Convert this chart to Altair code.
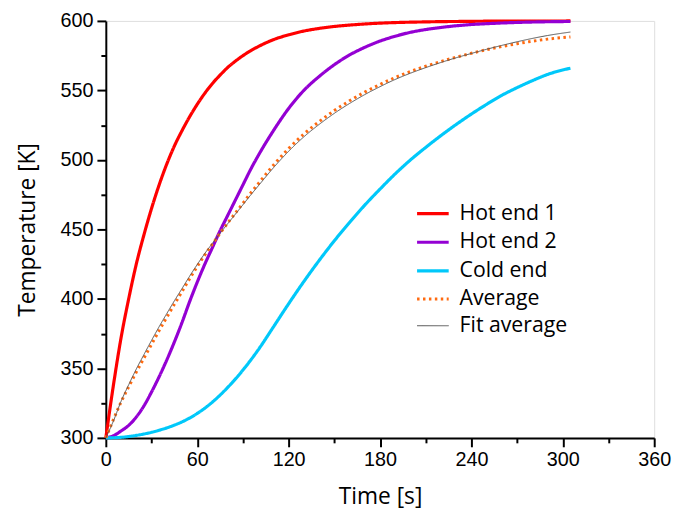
import altair as alt
import pandas as pd

# ---- data ----
time_s = [0, 5, 10, 15, 20, 25, 30, 35, 40, 45, 50, 55, 60, 65, 70, 75, 80, 85, 90, 95,
          100, 110, 120, 130, 140, 150, 160, 170, 180, 190, 200, 210, 220, 230, 240,
          250, 260, 270, 280, 290, 305]

hot_end_1 = [300, 338, 372, 400, 425, 446, 465, 482, 497, 510, 521, 531, 540, 548, 555,
             561, 566.5, 571, 575, 578.5, 581.5, 586.5, 590, 592.7, 594.6, 596, 597,
             597.8, 598.4, 598.8, 599.1, 599.3, 599.5, 599.6, 599.7, 599.8, 599.8,
             599.9, 599.9, 599.9, 600]

hot_end_2 = [300, 301.5, 305, 309, 315, 323, 333, 344, 356, 369, 383, 398, 412, 425, 437,
             449, 460, 471, 482, 493, 503, 521, 537, 550, 560, 568.5, 575.5, 581, 585.5,
             589, 591.8, 593.8, 595.3, 596.5, 597.4, 598, 598.5, 598.9, 599.2, 599.4,
             599.6]

cold_end = [300, 300.1, 300.4, 301, 301.8, 302.8, 304, 305.5, 307.2, 309.2, 311.5, 314.3,
            317.6, 321.4, 325.8, 330.8, 336.3, 342.3, 348.8, 355.8, 363.3, 379.8, 396.5, 412.5,
            427.6, 441.8, 455, 467.5, 479, 490, 500, 509, 517.5, 525.5, 533, 540, 546.5, 552,
            557, 561.5, 566]

average = [300, 313.2, 325.8, 336.7, 347.3, 357.3, 367.3, 377.2, 386.7, 396.1, 405.2,
           414.5, 423.3, 431.7, 439.5, 447.2, 454.5, 461.7, 468.8, 476, 482.8, 496.2,
           508.2, 518.6, 527.5, 535.5, 542.5, 548.8, 554.3, 559.3, 563.6, 567.4, 570.8,
           573.9, 576.7, 579.3, 581.6, 583.6, 585.4, 586.9, 588.5]

fit_average = [300, 312.2, 326.3, 338.2, 349.5, 359.9, 370.1, 380, 389.4, 398.6, 407.4,
               416.3, 424.7, 432.7, 440, 447.2, 454.1, 460.9, 467.7, 474.6, 481.2, 494.3,
               506.2, 516.6, 525.5, 533.5, 540.6, 547, 552.7, 557.9, 562.4, 566.4, 570.1,
               573.5, 576.6, 579.6, 582.4, 585, 587.4, 589.5, 592]

series_names = ["Hot end 1", "Hot end 2", "Cold end", "Average", "Fit average"]
x_ticks = [0, 30, 60, 90, 120, 150, 180, 210, 240, 270, 300, 330, 360]
y_ticks = [300, 325, 350, 375, 400, 425, 450, 475, 500, 525, 550, 575, 600]

# ---- styles ----
series_colors = ["#FF0000", "#9400D3", "#00C8FA", "#FF6A10", "#555555"]
series_dashes = [[1, 0], [1, 0], [1, 0], [2.5, 3.5], [1, 0]]
series_widths = [3.2, 3.2, 3.2, 3.0, 1.0]

rows = []
for name, vals in zip(series_names,
                      [hot_end_1, hot_end_2, cold_end, average, fit_average]):
    for t, v in zip(time_s, vals):
        rows.append({"t": t, "T": v, "series": name})
df = pd.DataFrame(rows)

legend = alt.Legend(
    title=None,
    orient="none",
    legendX=313,
    legendY=177,
    symbolType="stroke",
    symbolSize=1024,
    labelFont="Open Sans",
    labelFontSize=21.5,
    labelColor="black",
    labelOffset=9,
    rowPadding=0,
    padding=0,
)

axis_font = "Liberation Sans"
title_font = "Open Sans"

x_axis = alt.Axis(
    values=x_ticks,
    labelExpr="datum.value % 60 === 0 ? datum.label : ''",
    tickSize={"condition": {"test": "datum.value % 60 === 0", "value": 9}, "value": 5},
    tickWidth=2,
    tickColor="black",
    domainColor="black",
    domainWidth=2,
    labelFont=axis_font,
    labelFontSize=20,
    labelColor="black",
    labelPadding=3,
    labelFlush=False,
    labelOverlap=False,
    labelBound=False,
    grid=False,
    title="Time [s]",
    titleFont=title_font,
    titleFontSize=23,
    titleFontWeight="normal",
    titleColor="black",
    titlePadding=16,
)

y_axis = alt.Axis(
    values=y_ticks,
    labelExpr="datum.value % 50 === 0 ? datum.label : ''",
    tickSize={"condition": {"test": "datum.value % 50 === 0", "value": 9}, "value": 5},
    tickWidth=2,
    tickColor="black",
    domainColor="black",
    domainWidth=2,
    labelFont=axis_font,
    labelFontSize=20,
    labelColor="black",
    labelPadding=4,
    labelFlush=False,
    labelOverlap=False,
    labelBound=False,
    grid=False,
    title="Temperature [K]",
    titleFont=title_font,
    titleFontSize=23,
    titleFontWeight="normal",
    titleColor="black",
    titlePadding=21,
)

chart = (
    alt.Chart(df)
    .mark_line(strokeCap="butt", interpolate="monotone")
    .encode(
        x=alt.X("t:Q", scale=alt.Scale(domain=[0, 360], nice=False, zero=False), axis=x_axis),
        y=alt.Y("T:Q", scale=alt.Scale(domain=[300, 600], nice=False, zero=False), axis=y_axis),
        color=alt.Color("series:N", scale=alt.Scale(domain=series_names, range=series_colors),
                        legend=legend, sort=series_names),
        strokeDash=alt.StrokeDash("series:N", scale=alt.Scale(domain=series_names, range=series_dashes),
                                  legend=legend, sort=series_names),
        strokeWidth=alt.StrokeWidth("series:N",
                                    scale=alt.Scale(type="ordinal", domain=series_names, range=series_widths),
                                    legend=legend, sort=series_names),
        order=alt.Order("t:Q"),
    )
    .properties(
        width=555,
        height=422,
        autosize=alt.AutoSizeParams(type="none"),
        padding={"left": 99, "top": 10, "right": 18, "bottom": 78},
    )
    .configure_view(stroke=None)
    .configure(background="white")
)

chart.save("out.html", embed_options={"renderer": "svg", "actions": False})
